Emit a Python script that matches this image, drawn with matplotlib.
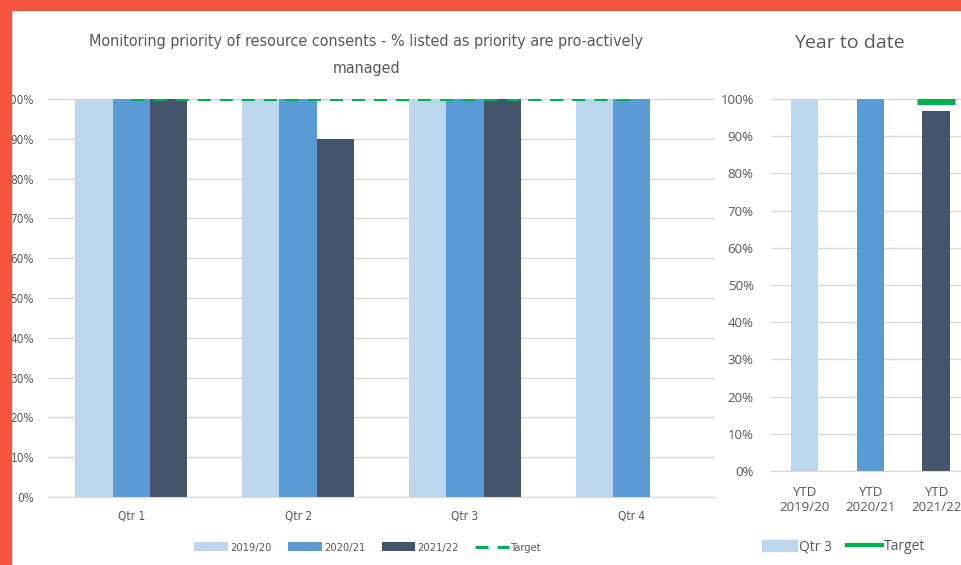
import matplotlib
matplotlib.use('Agg')
import matplotlib.pyplot as plt
import matplotlib.patches as mpatches
from matplotlib.lines import Line2D
import numpy as np

# quarterly data (%)
quarters = ['Qtr 1', 'Qtr 2', 'Qtr 3', 'Qtr 4']
y2019 = [100, 100, 100, 100]
y2020 = [100, 100, 100, 100]
y2021 = [100, 90, 100, np.nan]
target = [100, 100, 100, 100]

# year to date (%)
ytd_labels = ['YTD\n2019/20', 'YTD\n2020/21', 'YTD\n2021/22']
ytd_values = [100, 100, 96.7]
ytd_target = [np.nan, np.nan, 100]

c_light = '#BDD7EE'
c_mid = '#5B9BD5'
c_dark = '#44546A'
c_green = '#00B050'
c_grid = '#D9D9D9'
c_text = '#595959'

narrow = ['DejaVu Sans']
wide = ['Open Sans', 'DejaVu Sans']

fig = plt.figure(figsize=(9.62, 5.65), dpi=100)

# ---- left chart
ax = fig.add_axes([0.0499, 0.1204, 0.6934, 0.7044])
x = np.arange(len(quarters))
w = 0.224
b1 = ax.bar(x - w, y2019, w, color=c_light, label='2019/20', zorder=2)
b2 = ax.bar(x, y2020, w, color=c_mid, label='2020/21', zorder=2)
b3 = ax.bar(x + w, y2021, w, color=c_dark, label='2021/22', zorder=2)
ln, = ax.plot(x, target, color=c_green, lw=2.3, dashes=(4.1, 2.8), label='Target', zorder=3)
ax.set_xlim(-0.5, 3.5)
ax.set_ylim(0, 100)
ax.set_yticks(range(0, 101, 10))
ax.set_yticklabels([f'{v}%' for v in range(0, 101, 10)])
ax.set_xticks(x)
ax.set_xticklabels(quarters)
ax.yaxis.grid(True, color=c_grid, lw=1, zorder=0)
for s in ['top', 'right', 'left']:
    ax.spines[s].set_visible(False)
ax.spines['bottom'].set_color(c_grid)
ax.tick_params(length=0, colors=c_text, labelsize=8.5)
ax.tick_params(axis='x', pad=9)
ax.tick_params(axis='y', pad=10)
for lab in ax.get_xticklabels() + ax.get_yticklabels():
    lab.set_family(narrow)
    lab.set_stretch('condensed')
ax.set_title('Monitoring priority of resource consents - % listed as priority are pro-actively\nmanaged',
             family=narrow, stretch='condensed', fontsize=11.5, color=c_text, pad=19,
             linespacing=1.95, x=0.477)
leg = ax.legend(handles=[b1, b2, b3, ln], loc='center', bbox_to_anchor=(0.48, -0.127), ncol=4,
                frameon=False, prop={'family': narrow, 'stretch': 'condensed', 'size': 8},
                handlelength=3.05, handleheight=0.85, columnspacing=1.45, handletextpad=0.2)
for t in leg.get_texts():
    t.set_color(c_text)

# ---- right chart (runs off the right edge like the source)
ax2 = fig.add_axes([0.8015, 0.1664, 0.2058, 0.6584])
x2 = np.arange(len(ytd_labels))
ax2.bar(x2, ytd_values, 0.41, color=[c_light, c_mid, c_dark], zorder=2)
ax2.plot(x2, ytd_target, ls='none', marker='_', markersize=27, mew=8, color=c_green, zorder=3)
ax2.set_xlim(-0.5, 2.5)
ax2.set_ylim(0, 100)
ax2.set_yticks(range(0, 101, 10))
ax2.set_yticklabels([f'{v}%' for v in range(0, 101, 10)])
ax2.set_xticks(x2)
ax2.set_xticklabels(ytd_labels, linespacing=1.2)
ax2.yaxis.grid(True, color=c_grid, lw=1, zorder=0)
for s in ['top', 'right', 'left']:
    ax2.spines[s].set_visible(False)
ax2.spines['bottom'].set_color(c_grid)
ax2.tick_params(length=0, colors=c_text, labelsize=9.5)
ax2.tick_params(axis='x', pad=11)
ax2.tick_params(axis='y', pad=12.5)
for lab in ax2.get_xticklabels() + ax2.get_yticklabels():
    lab.set_family(wide)
fig.text(0.883, 0.924, 'Year to date', ha='center', va='center', family=wide,
         fontsize=14, color=c_text)
h1 = mpatches.Patch(color=c_light, label='Qtr 3')
h2 = Line2D([], [], color=c_green, lw=3, label='Target')
leg2 = fig.legend(handles=[h1, h2], loc='center', bbox_to_anchor=(0.877, 0.032), ncol=2,
                  frameon=False, prop={'family': wide, 'size': 10}, handlelength=2.5,
                  handleheight=0.8, columnspacing=1.1, handletextpad=0.15)
for t in leg2.get_texts():
    t.set_color(c_text)

# red frame on left and top edges
fig.patches.append(mpatches.Rectangle((0, 0), 11 / 962, 1, transform=fig.transFigure,
                                      color='#F4553E', zorder=10))
fig.patches.append(mpatches.Rectangle((0, 1 - 10 / 565), 1, 10 / 565, transform=fig.transFigure,
                                      color='#F4553E', zorder=10))

fig.savefig('out.png', dpi=100)
